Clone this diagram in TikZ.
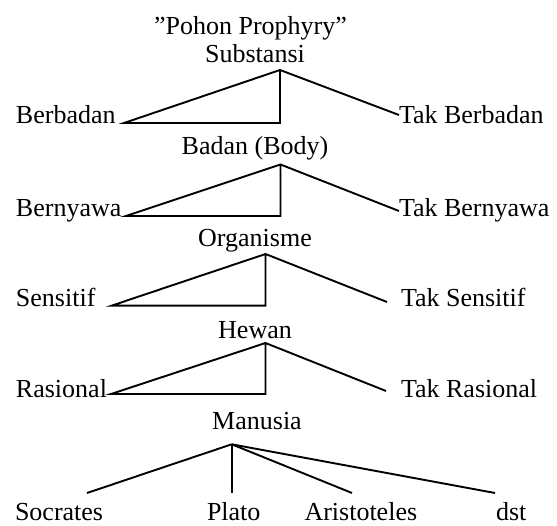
\documentclass[tikz,border=0pt]{standalone}
\usepackage{fontspec}
\setmainfont{Liberation Serif}
\begin{document}
\begin{tikzpicture}[x=1pt,y=-1pt,
  lbl/.style={inner sep=0pt, outer sep=0pt, font=\fontsize{26}{30}\selectfont},
  lft/.style={lbl, anchor=base west},
  ctr/.style={lbl, anchor=base},
  edge/.style={line width=1.9pt, line join=miter}]
\useasboundingbox (0,0) rectangle (557,526);
% texts
\node[ctr] (title) at (250.5,35) {''Pohon Prophyry''};
\node[ctr] (sub) at (255,63) {Substansi};
\node[lft] (berb) at (16,124) {Berbadan};
\node[lft] (tberb) at (399,124) {Tak Berbadan};
\node[ctr] (badan) at (255,155) {Badan (Body)};
\node[lft] (bern) at (16,217) {Bernyawa};
\node[lft] (tbern) at (399,217) {Tak Bernyawa};
\node[ctr] (org) at (255,247) {Organisme};
\node[lft] (sens) at (16,307) {Sensitif};
\node[lft] (tsens) at (401,307) {Tak Sensitif};
\node[ctr] (hew) at (255,339) {Hewan};
\node[lft] (ras) at (16,398) {Rasional};
\node[lft] (tras) at (401,398) {Tak Rasional};
\node[ctr] (man) at (257,430) {Manusia};
\node[lft] (soc) at (15,520) {Socrates};
\node[lft] (pla) at (207,520) {Plato};
\node[lft] (ari) at (304.5,520) {Aristoteles};
\node[lft] (dst) at (496,520) {dst};
% connector points
\coordinate (a1) at (280,70);
\coordinate (l1) at (124,123);
\coordinate (c1) at (280,123);
\coordinate (r1) at (399,115);
\coordinate (a2) at (280.5,164.5);
\coordinate (l2) at (126,216);
\coordinate (c2) at (280.5,216);
\coordinate (r2) at (399,211);
\coordinate (a3) at (265.5,254);
\coordinate (l3) at (111.5,305.7);
\coordinate (c3) at (265.5,305.7);
\coordinate (r3) at (387,302);
\coordinate (a4) at (265.5,343);
\coordinate (l4) at (111,394);
\coordinate (c4) at (265.5,394);
\coordinate (r4) at (386,391);
\coordinate (a5) at (231.7,444.3);
\coordinate (e1) at (87,493);
\coordinate (e2) at (231.7,493);
\coordinate (e3) at (352,493);
\coordinate (e4) at (495,493);
% connectors
\draw[edge] (r1) -- (a1) -- (l1) -- (c1) -- (a1);
\draw[edge] (r2) -- (a2) -- (l2) -- (c2) -- (a2);
\draw[edge] (r3) -- (a3) -- (l3) -- (c3) -- (a3);
\draw[edge] (r4) -- (a4) -- (l4) -- (c4) -- (a4);
\draw[edge] (a5) -- (e1);
\draw[edge] (a5) -- (e2);
\draw[edge] (a5) -- (e3);
\draw[edge] (a5) -- (e4);
\end{tikzpicture}
\end{document}
